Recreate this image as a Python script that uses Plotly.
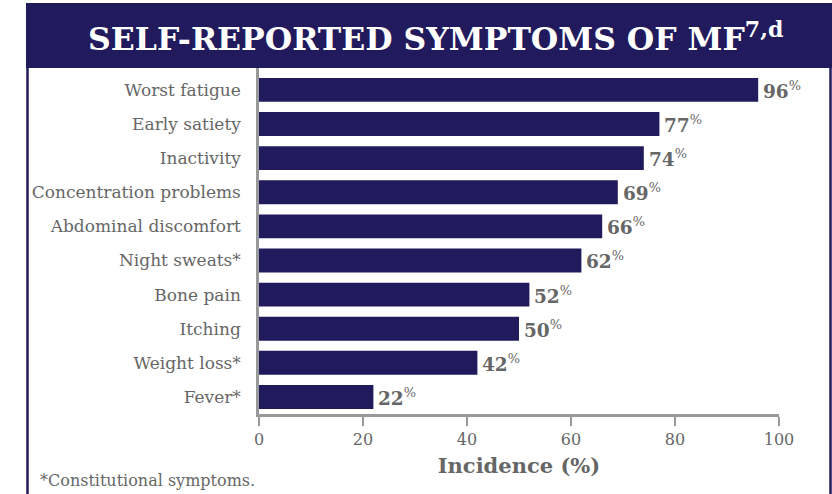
import plotly.graph_objects as go

categories = ["Worst fatigue", "Early satiety", "Inactivity", "Concentration problems",
              "Abdominal discomfort", "Night sweats*", "Bone pain", "Itching",
              "Weight loss*", "Fever*"]
values = [96, 77, 74, 69, 66, 62, 52, 50, 42, 22]
x_ticks = [0, 20, 40, 60, 80, 100]

NAVY = "#211a5c"
GRAY = "#666666"
FONT = "DejaVu Serif, serif"

cats_r = categories[::-1]
vals_r = values[::-1]

fig = go.Figure()
fig.add_trace(go.Bar(
    x=vals_r, y=cats_r, orientation="h",
    marker=dict(color=NAVY, line=dict(width=0)),
    width=0.7, hoverinfo="skip",
))

for c, v in zip(cats_r, vals_r):
    fig.add_annotation(
        x=v, y=c, xref="x", yref="y", xanchor="left", yanchor="middle",
        xshift=3, yshift=0, showarrow=False,
        text=f"<b>{v}</b><sup>%</sup>",
        font=dict(family=FONT, size=18.5, color=GRAY),
    )

# title bar
fig.add_shape(type="rect", xref="paper", yref="paper",
              x0=(26-259)/520, x1=(832-259)/520, y0=(494-68-80)/346, y1=(494-3-80)/346,
              fillcolor=NAVY, line=dict(width=0), layer="below")
# side border lines
fig.add_shape(type="line", xref="paper", yref="paper",
              x0=(27.5-259)/520, x1=(27.5-259)/520, y0=-80/346, y1=(494-60-80)/346,
              line=dict(color=NAVY, width=2.5))
fig.add_shape(type="line", xref="paper", yref="paper",
              x0=(830.5-259)/520, x1=(830.5-259)/520, y0=-80/346, y1=(494-60-80)/346,
              line=dict(color=NAVY, width=2.5))

fig.add_annotation(
    xref="paper", yref="paper", x=(435-259)/520, y=(494-36-80)/346,
    xanchor="center", yanchor="middle", showarrow=False,
    text="<b>SELF-REPORTED SYMPTOMS OF MF<sup>7,d</sup></b>",
    font=dict(family=FONT, size=31.5, color="white"),
)
fig.add_annotation(
    xref="paper", yref="paper", x=(38-259)/520, y=(494-480-80)/346,
    xanchor="left", yanchor="middle", showarrow=False,
    text="*Constitutional symptoms.",
    font=dict(family=FONT, size=16, color=GRAY),
)

fig.update_layout(
    width=832, height=494,
    margin=dict(l=259, r=53, t=68, b=80),
    paper_bgcolor="white", plot_bgcolor="white",
    showlegend=False,
    bargap=0.3,
    font=dict(family=FONT),
    xaxis=dict(
        range=[0, 100], tickvals=x_ticks, ticktext=[str(t) for t in x_ticks],
        showgrid=False, zeroline=False,
        showline=True, linecolor="#999999", linewidth=2.5,
        ticks="outside", ticklen=9, tickwidth=2, tickcolor="#999999",
        tickfont=dict(family=FONT, size=16, color=GRAY),
        title=dict(text="<b>Incidence (%)</b>", font=dict(family=FONT, size=21, color=GRAY), standoff=11),
        fixedrange=True,
    ),
    yaxis=dict(
        categoryorder="array", categoryarray=cats_r,
        range=[-0.5, 9.64],
        showgrid=False, zeroline=False,
        showline=True, linecolor="#999999", linewidth=2.5,
        ticks="", ticklabelstandoff=12,
        tickfont=dict(family=FONT, size=17, color=GRAY),
        fixedrange=True,
    ),
)

fig.write_html("out.html")
